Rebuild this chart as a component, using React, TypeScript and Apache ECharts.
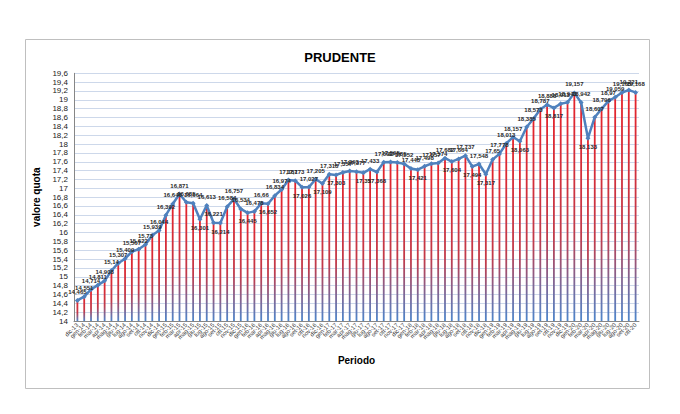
import React, { useEffect, useRef } from "react";
import * as echarts from "echarts";

const categories: string[] = [
  "dic-13",
  "gen-14", "feb-14", "mar-14", "apr-14", "mag-14", "giu-14", "lug-14", "ago-14", "set-14", "ott-14", "nov-14", "dic-14",
  "gen-15", "feb-15", "mar-15", "apr-15", "mag-15", "giu-15", "lug-15", "ago-15", "set-15", "ott-15", "nov-15", "dic-15",
  "gen-16", "feb-16", "mar-16", "apr-16", "mag-16", "giu-16", "lug-16", "ago-16", "set-16", "ott-16", "nov-16", "dic-16",
  "gen-17", "feb-17", "mar-17", "apr-17", "mag-17", "giu-17", "lug-17", "ago-17", "set-17", "ott-17", "nov-17", "dic-17",
  "gen-18", "feb-18", "mar-18", "apr-18", "mag-18", "giu-18", "lug-18", "ago-18", "set-18", "ott-18", "nov-18", "dic-18",
  "gen-19", "feb-19", "mar-19", "apr-19", "mag-19", "giu-19", "lug-19", "ago-19", "set-19", "ott-19", "nov-19", "dic-19",
  "gen-20", "feb-20", "mar-20", "apr-20", "mag-20", "giu-20", "lug-20", "ago-20", "set-20", "ott-20",
];

const quota: number[] = [
  14.465,
  14.551, 14.714, 14.811, 14.908, 15.14, 15.307, 15.409, 15.567, 15.622, 15.73, 15.939, 16.044,
  16.392, 16.646, 16.871, 16.685, 16.664, 16.301, 16.613, 16.221, 16.214, 16.584, 16.757, 16.534,
  16.445, 16.478, 16.66, 16.652, 16.834, 16.974, 17.187, 17.173, 17.026, 17.027, 17.205, 17.109,
  17.318, 17.303, 17.357, 17.393, 17.377, 17.35, 17.433, 17.368, 17.591, 17.595, 17.585, 17.552,
  17.448, 17.421, 17.498, 17.557, 17.574, 17.682, 17.604, 17.664, 17.737, 17.494, 17.548, 17.317,
  17.65, 17.778, 18.013, 18.157, 18.063, 18.385, 18.573, 18.787, 18.888, 18.817, 18.913, 18.943,
  19.157, 18.942, 18.133, 18.607, 18.796, 18.97, 19.059, 19.165, 19.221, 19.168,
];

const yMin = 14;
const yMax = 19.6;
const yStep = 0.2;

const fmt = (v: number) => String(v).replace(".", ",");

export default function App() {
  const ref = useRef<HTMLDivElement>(null);

  useEffect(() => {
    document.body.style.margin = "0";
    if (!ref.current) return;
    const chart = echarts.init(ref.current, undefined, { renderer: "svg" });
    const font = "Liberation Sans, Arial, sans-serif";

    // labels of local minima go under the line, all others above it
    const lineData = quota.map((v, i) => {
      const isMin =
        i > 0 && i < quota.length - 1 && v < quota[i - 1] && v <= quota[i + 1];
      return { value: v, label: { position: isMin ? "bottom" : "top" } };
    });

    chart.setOption({
      animation: false,
      backgroundColor: "#ffffff",
      title: {
        text: "PRUDENTE",
        left: "center",
        top: 46,
        textStyle: { fontFamily: font, fontSize: 13, fontWeight: "bold", color: "#000" },
      },
      graphic: [
        {
          type: "rect",
          shape: { x: 25.5, y: 39.5, width: 624, height: 349 },
          style: { fill: "none", stroke: "#bfbfbf", lineWidth: 1 },
          silent: true,
        },
      ],
      grid: { left: 74, top: 73.3, width: 565, height: 247.7, containLabel: false },
      xAxis: {
        type: "category",
        data: categories,
        boundaryGap: true,
        name: "Periodo",
        nameLocation: "middle",
        nameGap: 34,
        nameTextStyle: { fontFamily: font, fontSize: 10, fontWeight: "bold", color: "#000" },
        axisLine: { lineStyle: { color: "#868686", width: 1 } },
        axisTick: { show: false },
        axisLabel: {
          interval: 0,
          rotate: 45,
          fontSize: 6,
          margin: 3,
          color: "#404040",
          fontFamily: font,
        },
        splitLine: { show: false },
      },
      yAxis: {
        type: "value",
        min: yMin,
        max: yMax,
        interval: yStep,
        name: "valore quota",
        nameLocation: "middle",
        nameGap: 28,
        nameRotate: 90,
        nameTextStyle: { fontFamily: font, fontSize: 10, fontWeight: "bold", color: "#000" },
        axisLine: { show: true, lineStyle: { color: "#868686", width: 1 } },
        axisTick: { show: false },
        axisLabel: {
          margin: 6,
          fontSize: 8,
          color: "#222",
          fontFamily: font,
          formatter: (v: number) => String(+v.toFixed(1)).replace(".", ","),
        },
        splitLine: { show: true, lineStyle: { color: "#cdd8ea", width: 1 } },
      },
      series: [
        {
          type: "bar",
          data: quota,
          barWidth: 1.8,
          itemStyle: {
            color: new echarts.graphic.LinearGradient(0, 0, 0, 1, [
              { offset: 0, color: "#e5232b" },
              { offset: 0.6, color: "#c23a4a" },
              { offset: 1, color: "#4d86cc" },
            ]),
          },
          silent: true,
        },
        {
          type: "line",
          data: lineData,
          symbol: "diamond",
          symbolSize: 5,
          lineStyle: { color: "#4f81bd", width: 2.5 },
          itemStyle: { color: "#4f81bd" },
          label: {
            show: true,
            position: "top",
            distance: 3,
            fontSize: 6,
            fontWeight: "bold",
            fontFamily: font,
            color: "#2a2a2a",
            formatter: (p: any) => fmt(p.value),
          },
          z: 5,
        },
      ],
    });
    return () => chart.dispose();
  }, []);

  return <div ref={ref} style={{ width: 680, height: 414 }} />;
}
